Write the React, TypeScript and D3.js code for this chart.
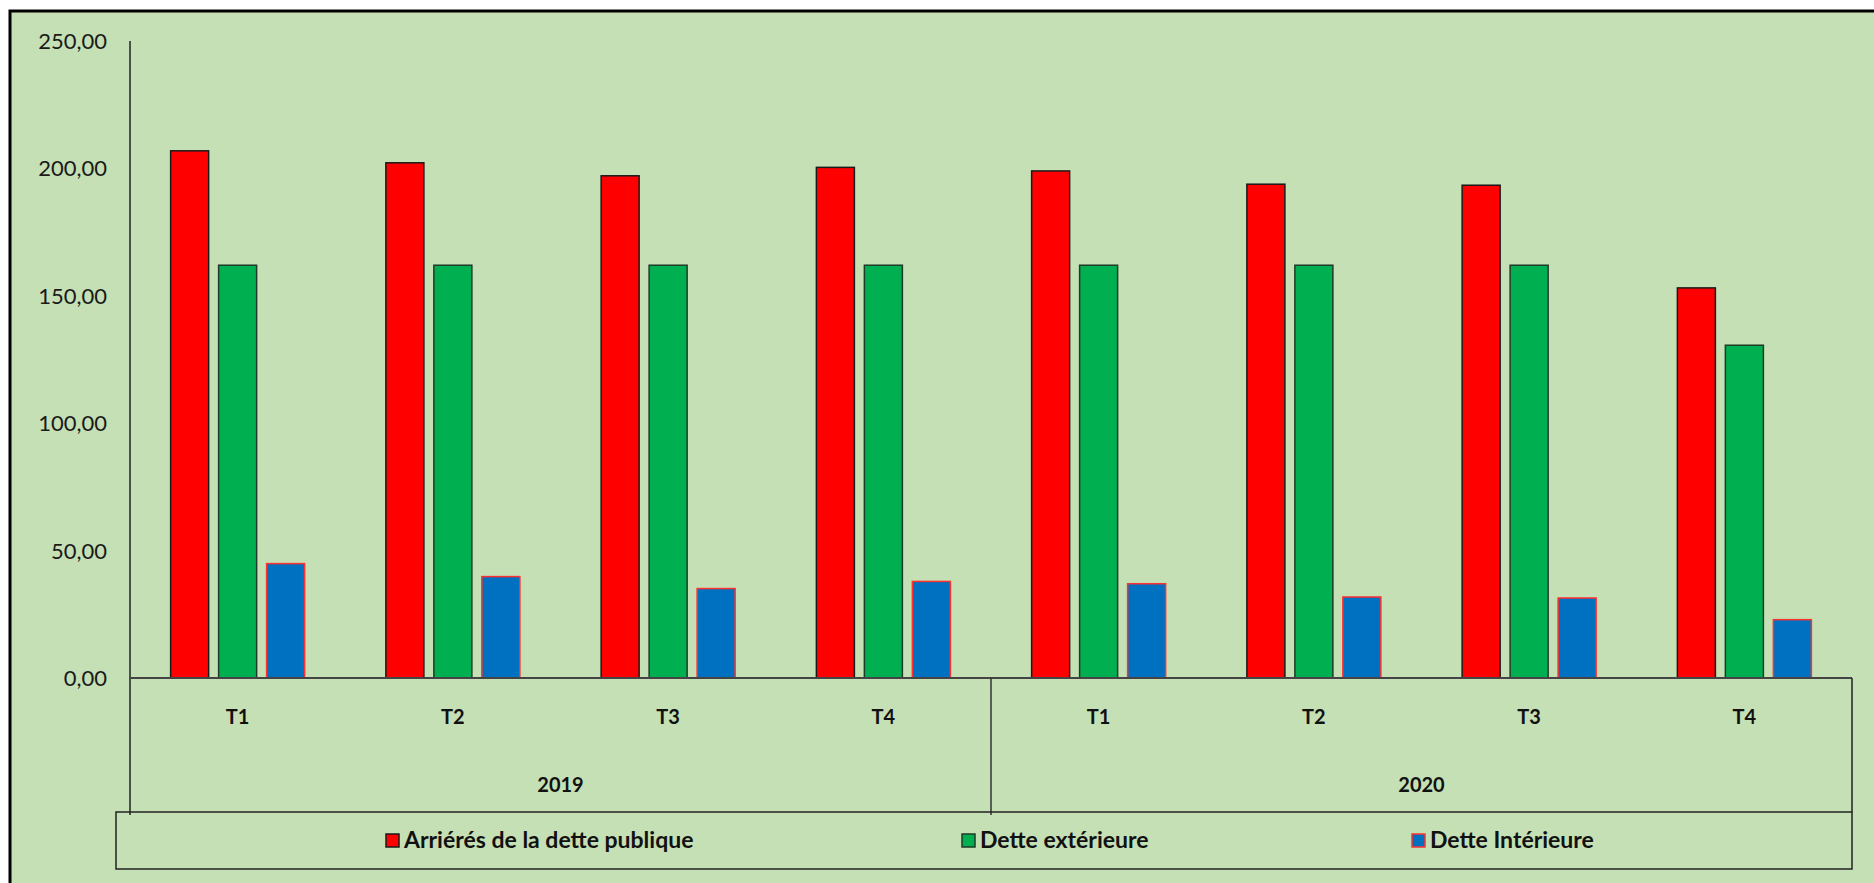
import * as d3 from 'd3';
import * as React from 'react';

// quarters and years of the two-level category axis
const quarters = ['T1', 'T2', 'T3', 'T4'];
const years = ['2019', '2020'];

// series names
const seriesNames = ['Arriérés de la dette publique', 'Dette extérieure', 'Dette Intérieure'];

// values per quarter, 2019 T1 .. 2020 T4
const arrieres = [206.9, 202.2, 197.1, 200.4, 199.0, 193.8, 193.4, 153.1];
const detteExterieure = [162.0, 162.0, 162.0, 162.0, 162.0, 162.0, 162.0, 130.6];
const detteInterieure = [44.9, 39.8, 35.1, 37.9, 37.0, 31.8, 31.4, 22.9];

const yTicks = [0, 50, 100, 150, 200, 250];

const fills = ['#ff0000', '#00b050', '#0070c0'];
const strokes = ['#1a1a1a', '#1f3a28', '#ff3030'];

const W = 1874;
const H = 883;
const BG = '#c5e0b4';
const FONT = 'Lato, "Open Sans", sans-serif';

const plot = { left: 130, right: 1852, top: 41, bottom: 678 };
const yearRowBottom = 812;
const legendBox = { x: 116, y: 812, w: 1736, h: 57 };

export default function App(): JSX.Element {
  const categories = years.flatMap((yr) => quarters.map((q) => `${yr}-${q}`));
  const series = [arrieres, detteExterieure, detteInterieure];

  const x0 = d3.scaleBand<string>().domain(categories).range([plot.left, plot.right]);
  const groupWidth = 134;
  const x1 = d3
    .scaleBand<number>()
    .domain([0, 1, 2])
    .range([0, groupWidth])
    .paddingInner(0.208)
    .paddingOuter(0);
  const y = d3.scaleLinear().domain([0, 250]).range([plot.bottom, plot.top]);
  const fmt = (v: number) => d3.format('.2f')(v).replace('.', ',');

  const yearX = d3.scaleBand<string>().domain(years).range([plot.left, plot.right]);
  const legendX = [386, 962, 1412];

  return (
    <svg
      width={W}
      height={H}
      style={{ position: 'absolute', left: 0, top: 0, background: '#fff' }}
      fontFamily={FONT}
    >
      <rect x={10} y={11} width={W + 10} height={H + 10} fill={BG} stroke='#000' strokeWidth={3} />

      {/* y labels */}
      {yTicks.map((t) => (
        <text
          key={t}
          x={107}
          y={y(t)}
          dy='0.36em'
          textAnchor='end'
          fontSize={22}
          fill='#1a1a1a'
        >
          {fmt(t)}
        </text>
      ))}

      {/* bars */}
      {categories.map((cat, ci) => {
        const gx = (x0(cat) as number) + (x0.bandwidth() - groupWidth) / 2;
        return (
          <g key={cat} transform={`translate(${gx},0)`}>
            {series.map((vals, si) => (
              <rect
                key={si}
                x={x1(si)}
                y={y(vals[ci])}
                width={x1.bandwidth()}
                height={y(0) - y(vals[ci])}
                fill={fills[si]}
                stroke={strokes[si]}
                strokeWidth={1.5}
              />
            ))}
          </g>
        );
      })}

      {/* axes */}
      <line x1={plot.left} x2={plot.left} y1={plot.top} y2={815} stroke='#222' strokeWidth={1.5} />
      <line x1={plot.left} x2={plot.right} y1={plot.bottom} y2={plot.bottom} stroke='#444' strokeWidth={2} />
      <line x1={plot.right} x2={plot.right} y1={plot.bottom} y2={yearRowBottom} stroke='#222' strokeWidth={1.5} />
      <line
        x1={yearX('2020') as number}
        x2={yearX('2020') as number}
        y1={plot.bottom}
        y2={yearRowBottom + 3}
        stroke='#333'
        strokeWidth={1.5}
      />

      {/* quarter labels */}
      {categories.map((cat, ci) => (
        <text
          key={cat}
          x={(x0(cat) as number) + x0.bandwidth() / 2}
          y={724}
          textAnchor='middle'
          fontSize={20}
          fontWeight='bold'
          fill='#111'
        >
          {quarters[ci % 4]}
        </text>
      ))}

      {/* year labels */}
      {years.map((yr) => (
        <text
          key={yr}
          x={(yearX(yr) as number) + yearX.bandwidth() / 2}
          y={792}
          textAnchor='middle'
          fontSize={20}
          fontWeight='bold'
          fill='#111'
        >
          {yr}
        </text>
      ))}

      {/* legend */}
      <rect
        x={legendBox.x}
        y={legendBox.y}
        width={legendBox.w}
        height={legendBox.h}
        fill='none'
        stroke='#222'
        strokeWidth={1.5}
      />
      {seriesNames.map((name, i) => (
        <g key={name} transform={`translate(${legendX[i]},834)`}>
          <rect x={0} y={0} width={13} height={13} fill={fills[i]} stroke={strokes[i]} strokeWidth={1.5} />
          <text x={18} y={14} fontSize={23} fontWeight='bold' fill='#111'>
            {name}
          </text>
        </g>
      ))}
    </svg>
  );
}
